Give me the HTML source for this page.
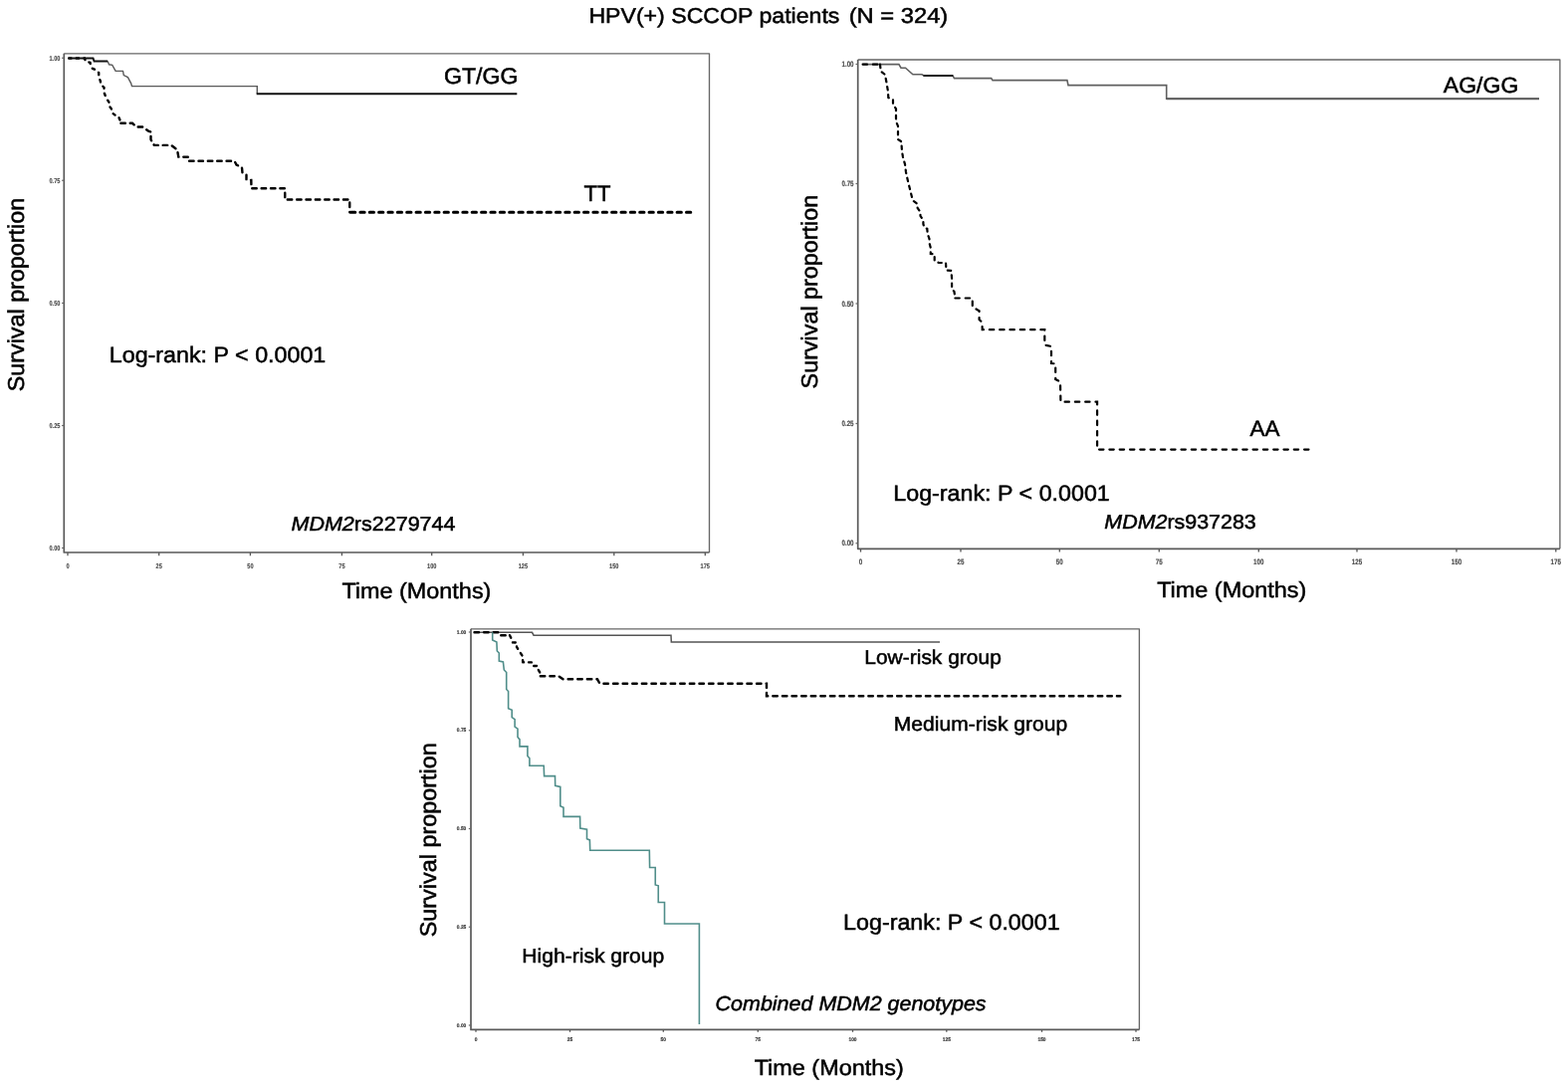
<!DOCTYPE html>
<html lang="en">
<head>
<meta charset="utf-8">
<title>HPV(+) SCCOP patients (N = 324)</title>
<style>
html,body{margin:0;padding:0;background:#fff;}
body{width:1575px;height:1092px;overflow:hidden;}
svg{display:block;font-family:"Liberation Sans", sans-serif;filter:blur(0.45px);text-rendering:geometricPrecision;}
.t{fill:#000;stroke:#000;stroke-width:0.5px;}
</style>
</head>
<body>
<svg width="1575" height="1092" viewBox="0 0 1575 1092">
<rect x="0" y="0" width="1575" height="1092" fill="#ffffff"/>
<text class="t" y="23" font-size="21.5"><tspan x="591.4" textLength="252" lengthAdjust="spacingAndGlyphs">HPV(+) SCCOP patients</tspan> <tspan x="852.7" textLength="99.6" lengthAdjust="spacingAndGlyphs">(N = 324)</tspan></text>
<path d="M64.3,53.8 H712.5 V555.0" fill="none" stroke="#666" stroke-width="1.35" stroke-linejoin="round"/>
<path d="M64.3,53.8 V555.0 H712.5" fill="none" stroke="#5a5a5a" stroke-width="1.7" stroke-linejoin="round"/>
<line x1="68" y1="555.0" x2="68" y2="558.3" stroke="#555" stroke-width="1.3"/>
<text transform="translate(68,571.2) scale(0.8,1)" font-size="7" font-weight="bold" text-anchor="middle" fill="#4a4a4a" stroke="#4a4a4a" stroke-width="0.15">0</text>
<line x1="159.7" y1="555.0" x2="159.7" y2="558.3" stroke="#555" stroke-width="1.3"/>
<text transform="translate(159.7,571.2) scale(0.8,1)" font-size="7" font-weight="bold" text-anchor="middle" fill="#4a4a4a" stroke="#4a4a4a" stroke-width="0.15">25</text>
<line x1="251.4" y1="555.0" x2="251.4" y2="558.3" stroke="#555" stroke-width="1.3"/>
<text transform="translate(251.4,571.2) scale(0.8,1)" font-size="7" font-weight="bold" text-anchor="middle" fill="#4a4a4a" stroke="#4a4a4a" stroke-width="0.15">50</text>
<line x1="343.4" y1="555.0" x2="343.4" y2="558.3" stroke="#555" stroke-width="1.3"/>
<text transform="translate(343.4,571.2) scale(0.8,1)" font-size="7" font-weight="bold" text-anchor="middle" fill="#4a4a4a" stroke="#4a4a4a" stroke-width="0.15">75</text>
<line x1="433.7" y1="555.0" x2="433.7" y2="558.3" stroke="#555" stroke-width="1.3"/>
<text transform="translate(433.7,571.2) scale(0.8,1)" font-size="7" font-weight="bold" text-anchor="middle" fill="#4a4a4a" stroke="#4a4a4a" stroke-width="0.15">100</text>
<line x1="525.4" y1="555.0" x2="525.4" y2="558.3" stroke="#555" stroke-width="1.3"/>
<text transform="translate(525.4,571.2) scale(0.8,1)" font-size="7" font-weight="bold" text-anchor="middle" fill="#4a4a4a" stroke="#4a4a4a" stroke-width="0.15">125</text>
<line x1="616.8" y1="555.0" x2="616.8" y2="558.3" stroke="#555" stroke-width="1.3"/>
<text transform="translate(616.8,571.2) scale(0.8,1)" font-size="7" font-weight="bold" text-anchor="middle" fill="#4a4a4a" stroke="#4a4a4a" stroke-width="0.15">150</text>
<line x1="708.3" y1="555.0" x2="708.3" y2="558.3" stroke="#555" stroke-width="1.3"/>
<text transform="translate(708.3,571.2) scale(0.8,1)" font-size="7" font-weight="bold" text-anchor="middle" fill="#4a4a4a" stroke="#4a4a4a" stroke-width="0.15">175</text>
<line x1="62.099999999999994" y1="58.25" x2="64.3" y2="58.25" stroke="#666" stroke-width="1.2"/>
<text transform="translate(60.4,60.75) scale(0.8,1)" font-size="7" font-weight="bold" text-anchor="end" fill="#4a4a4a" stroke="#4a4a4a" stroke-width="0.15">1.00</text>
<line x1="62.099999999999994" y1="181.25" x2="64.3" y2="181.25" stroke="#666" stroke-width="1.2"/>
<text transform="translate(60.4,183.75) scale(0.8,1)" font-size="7" font-weight="bold" text-anchor="end" fill="#4a4a4a" stroke="#4a4a4a" stroke-width="0.15">0.75</text>
<line x1="62.099999999999994" y1="304.5" x2="64.3" y2="304.5" stroke="#666" stroke-width="1.2"/>
<text transform="translate(60.4,307.0) scale(0.8,1)" font-size="7" font-weight="bold" text-anchor="end" fill="#4a4a4a" stroke="#4a4a4a" stroke-width="0.15">0.50</text>
<line x1="62.099999999999994" y1="427.5" x2="64.3" y2="427.5" stroke="#666" stroke-width="1.2"/>
<text transform="translate(60.4,430.0) scale(0.8,1)" font-size="7" font-weight="bold" text-anchor="end" fill="#4a4a4a" stroke="#4a4a4a" stroke-width="0.15">0.25</text>
<line x1="62.099999999999994" y1="550.5" x2="64.3" y2="550.5" stroke="#666" stroke-width="1.2"/>
<text transform="translate(60.4,553.0) scale(0.8,1)" font-size="7" font-weight="bold" text-anchor="end" fill="#4a4a4a" stroke="#4a4a4a" stroke-width="0.15">0.00</text>
<path d="M108.20,61.50 L109.50,64.80 L112.80,65.30 L116.10,71.40 L123.50,71.40 L124.30,75.60 L128.40,77.60 L131.70,83.80 L132.50,86.60 L258.30,86.60 L258.30,94.20" fill="none" stroke="#5a5a5a" stroke-width="1.4" stroke-linejoin="miter"/>
<path d="M257.70,94.20 L519.30,94.20" fill="none" stroke="#111" stroke-width="1.9" stroke-linejoin="miter"/>
<path d="M69.10,58.50 L85.00,58.50 L86.00,61.80 L90.50,62.80 L91.30,66.50 L93.00,69.00 L95.40,69.80 L99.20,73.10 L99.20,77.20 L100.80,81.30 L101.20,84.60 L104.50,87.90 L104.50,92.90 L105.80,96.20 L107.40,99.50 L109.50,102.80 L109.50,106.10 L111.90,109.40 L112.80,113.50 L116.10,116.00 L118.90,116.80 L120.60,120.90 L121.40,123.80" fill="none" stroke="#000" stroke-width="2.4" stroke-dasharray="2.4 5.2" stroke-linejoin="miter" stroke-linecap="round" stroke-linejoin="round"/>
<path d="M121.40,123.80 L133.00,123.80 L137.00,127.50 L143.00,127.50 L149.00,131.60 L151.50,132.40 L151.50,140.00 L153.00,143.50 L155.00,145.90 L172.00,145.90 L178.00,150.50 L179.30,157.60 L189.00,157.80 L189.50,161.80 L235.50,161.80 L237.50,165.50 L243.00,168.50 L243.50,173.50 L247.50,175.50 L247.50,180.50 L252.30,180.90 L252.50,189.20 L286.25,189.20 L286.25,200.50 L351.25,200.50 L351.25,213.20" fill="none" stroke="#000" stroke-width="2.4" stroke-dasharray="4.5 4.86" stroke-linejoin="miter" stroke-linecap="round" stroke-linejoin="round"/>
<path d="M352.50,213.30 L694.20,213.30" fill="none" stroke="#000" stroke-width="3.0" stroke-dasharray="4.3 5.06" stroke-linejoin="miter" stroke-linecap="round"/>
<path d="M69.10,58.60 L93.50,58.60 L94.60,61.50 L108.20,61.50" fill="none" stroke="#111" stroke-width="2.0" stroke-linejoin="miter"/>
<text class="t" x="446" y="84.2" font-size="22.6" textLength="74.5" lengthAdjust="spacingAndGlyphs">GT/GG</text>
<text class="t" x="586.5" y="202" font-size="22.4" textLength="27" lengthAdjust="spacingAndGlyphs">TT</text>
<text class="t" x="109.8" y="364.2" font-size="22.3" textLength="217.5" lengthAdjust="spacingAndGlyphs">Log-rank: P &lt; 0.0001</text>
<text x="292.5" y="533" font-size="20" textLength="165" lengthAdjust="spacingAndGlyphs" class="t"><tspan font-style="italic">MDM2</tspan>rs2279744</text>
<text class="t" x="343.4" y="600.5" font-size="22" textLength="150" lengthAdjust="spacingAndGlyphs">Time (Months)</text>
<text class="t" transform="translate(24.3,393.3) rotate(-90) scale(1.014,1)" font-size="23">Survival proportion</text>
<path d="M861.7,60 H1566.9 V551.3" fill="none" stroke="#666" stroke-width="1.35" stroke-linejoin="round"/>
<path d="M861.7,60 V551.3 H1566.9" fill="none" stroke="#5a5a5a" stroke-width="1.7" stroke-linejoin="round"/>
<line x1="864.5" y1="551.3" x2="864.5" y2="554.5999999999999" stroke="#555" stroke-width="1.3"/>
<text transform="translate(864.5,566.6) scale(0.8,1)" font-size="7.8" font-weight="bold" text-anchor="middle" fill="#4a4a4a" stroke="#4a4a4a" stroke-width="0.15">0</text>
<line x1="965" y1="551.3" x2="965" y2="554.5999999999999" stroke="#555" stroke-width="1.3"/>
<text transform="translate(965,566.6) scale(0.8,1)" font-size="7.8" font-weight="bold" text-anchor="middle" fill="#4a4a4a" stroke="#4a4a4a" stroke-width="0.15">25</text>
<line x1="1064.3" y1="551.3" x2="1064.3" y2="554.5999999999999" stroke="#555" stroke-width="1.3"/>
<text transform="translate(1064.3,566.6) scale(0.8,1)" font-size="7.8" font-weight="bold" text-anchor="middle" fill="#4a4a4a" stroke="#4a4a4a" stroke-width="0.15">50</text>
<line x1="1164.3" y1="551.3" x2="1164.3" y2="554.5999999999999" stroke="#555" stroke-width="1.3"/>
<text transform="translate(1164.3,566.6) scale(0.8,1)" font-size="7.8" font-weight="bold" text-anchor="middle" fill="#4a4a4a" stroke="#4a4a4a" stroke-width="0.15">75</text>
<line x1="1264.3" y1="551.3" x2="1264.3" y2="554.5999999999999" stroke="#555" stroke-width="1.3"/>
<text transform="translate(1264.3,566.6) scale(0.8,1)" font-size="7.8" font-weight="bold" text-anchor="middle" fill="#4a4a4a" stroke="#4a4a4a" stroke-width="0.15">100</text>
<line x1="1363" y1="551.3" x2="1363" y2="554.5999999999999" stroke="#555" stroke-width="1.3"/>
<text transform="translate(1363,566.6) scale(0.8,1)" font-size="7.8" font-weight="bold" text-anchor="middle" fill="#4a4a4a" stroke="#4a4a4a" stroke-width="0.15">125</text>
<line x1="1463" y1="551.3" x2="1463" y2="554.5999999999999" stroke="#555" stroke-width="1.3"/>
<text transform="translate(1463,566.6) scale(0.8,1)" font-size="7.8" font-weight="bold" text-anchor="middle" fill="#4a4a4a" stroke="#4a4a4a" stroke-width="0.15">150</text>
<line x1="1562.8" y1="551.3" x2="1562.8" y2="554.5999999999999" stroke="#555" stroke-width="1.3"/>
<text transform="translate(1562.8,566.6) scale(0.8,1)" font-size="7.8" font-weight="bold" text-anchor="middle" fill="#4a4a4a" stroke="#4a4a4a" stroke-width="0.15">175</text>
<line x1="859.5" y1="64.5" x2="861.7" y2="64.5" stroke="#666" stroke-width="1.2"/>
<text transform="translate(857.6,67.2) scale(0.8,1)" font-size="7.8" font-weight="bold" text-anchor="end" fill="#4a4a4a" stroke="#4a4a4a" stroke-width="0.15">1.00</text>
<line x1="859.5" y1="184.5" x2="861.7" y2="184.5" stroke="#666" stroke-width="1.2"/>
<text transform="translate(857.6,187.2) scale(0.8,1)" font-size="7.8" font-weight="bold" text-anchor="end" fill="#4a4a4a" stroke="#4a4a4a" stroke-width="0.15">0.75</text>
<line x1="859.5" y1="305" x2="861.7" y2="305" stroke="#666" stroke-width="1.2"/>
<text transform="translate(857.6,307.7) scale(0.8,1)" font-size="7.8" font-weight="bold" text-anchor="end" fill="#4a4a4a" stroke="#4a4a4a" stroke-width="0.15">0.50</text>
<line x1="859.5" y1="425.5" x2="861.7" y2="425.5" stroke="#666" stroke-width="1.2"/>
<text transform="translate(857.6,428.2) scale(0.8,1)" font-size="7.8" font-weight="bold" text-anchor="end" fill="#4a4a4a" stroke="#4a4a4a" stroke-width="0.15">0.25</text>
<line x1="859.5" y1="545.75" x2="861.7" y2="545.75" stroke="#666" stroke-width="1.2"/>
<text transform="translate(857.6,548.45) scale(0.8,1)" font-size="7.8" font-weight="bold" text-anchor="end" fill="#4a4a4a" stroke="#4a4a4a" stroke-width="0.15">0.00</text>
<path d="M866.60,64.60 L902.90,64.60 L905.00,68.20 L909.50,68.20 L916.90,74.80 L926.00,74.80 L928.00,76.00 L957.00,76.00 L958.50,78.60 L995.70,78.60 L997.00,80.60 L1071.90,80.60 L1073.00,85.60 L1171.70,85.60 L1171.70,99.30 L1546.00,99.30" fill="none" stroke="#606060" stroke-width="1.6" stroke-linejoin="miter"/>
<path d="M1171.70,99.30 L1546.00,99.30" fill="none" stroke="#5c5c5c" stroke-width="1.9" stroke-linejoin="miter"/>
<path d="M927.50,76.00 L957.30,76.00" fill="none" stroke="#111" stroke-width="1.9" stroke-linejoin="miter"/>
<path d="M866.60,64.70 L884.00,64.70" fill="none" stroke="#000" stroke-width="2.2" stroke-dasharray="4.4 5.9" stroke-linejoin="miter" stroke-linecap="round" stroke-linejoin="round"/>
<path d="M884.00,64.70 L884.70,71.50 L889.00,75.00 L890.50,83.00 L892.00,92.00 L892.30,98.00 L897.00,100.30 L897.00,104.50 L900.00,109.40 L900.00,119.00 L900.50,123.00 L902.00,126.70 L902.00,140.00 L905.60,142.40 L905.60,146.00 L906.00,152.00 L907.00,158.00 L909.00,165.00 L910.00,173.00 L912.00,182.00 L914.00,190.00 L916.00,198.00 L917.00,201.50 L921.60,205.00 L921.60,209.00 L924.50,213.00 L924.50,217.00 L927.40,221.00 L927.40,225.00 L928.40,228.60 L931.30,229.80 L931.70,235.00 L933.50,240.00 L933.50,244.00 L934.80,249.00 L934.80,255.00 L938.70,255.40 L938.70,262.00 L943.00,264.00 L950.00,264.00 L950.50,271.50 L955.50,271.90 L956.10,280.00 L956.10,290.00 L958.50,293.00 L959.40,299.50" fill="none" stroke="#000" stroke-width="2.2" stroke-dasharray="3.4 4.8" stroke-linejoin="miter" stroke-linecap="round" stroke-linejoin="round"/>
<path d="M959.40,299.50 L976.80,299.50 L976.80,309.00 L980.00,310.20 L983.60,312.30 L983.60,321.00 L986.50,323.80 L986.70,331.20 L1049.30,331.20 L1049.30,346.50 L1056.00,348.00 L1056.00,365.00 L1060.20,365.40 L1060.20,381.00 L1065.00,383.50 L1065.40,403.70 L1102.10,403.70 L1102.10,451.60 L1315.50,451.60" fill="none" stroke="#000" stroke-width="2.2" stroke-dasharray="4.4 5.9" stroke-linejoin="miter" stroke-linecap="round" stroke-linejoin="round"/>
<text class="t" x="1449.8" y="93.2" font-size="22" textLength="75.5" lengthAdjust="spacingAndGlyphs">AG/GG</text>
<text class="t" x="1255.5" y="437.5" font-size="22" textLength="30" lengthAdjust="spacingAndGlyphs">AA</text>
<text class="t" x="897.3" y="503.3" font-size="22.3" textLength="217.5" lengthAdjust="spacingAndGlyphs">Log-rank: P &lt; 0.0001</text>
<text x="1109.3" y="531" font-size="20" textLength="152.5" lengthAdjust="spacingAndGlyphs" class="t"><tspan font-style="italic">MDM2</tspan>rs937283</text>
<text class="t" x="1162.2" y="600" font-size="22" textLength="150" lengthAdjust="spacingAndGlyphs">Time (Months)</text>
<text class="t" transform="translate(821.4,390.4) rotate(-90) scale(1.015,1)" font-size="23">Survival proportion</text>
<path d="M473,631.8 H1144.4 V1034.4" fill="none" stroke="#666" stroke-width="1.35" stroke-linejoin="round"/>
<path d="M473,631.8 V1034.4 H1144.4" fill="none" stroke="#5a5a5a" stroke-width="1.7" stroke-linejoin="round"/>
<line x1="478" y1="1034.4" x2="478" y2="1036.8000000000002" stroke="#555" stroke-width="1.3"/>
<text transform="translate(478,1045.6) scale(0.92,1)" font-size="5.3" font-weight="bold" text-anchor="middle" fill="#333" stroke="#333" stroke-width="0.15">0</text>
<line x1="572.5" y1="1034.4" x2="572.5" y2="1036.8000000000002" stroke="#555" stroke-width="1.3"/>
<text transform="translate(572.5,1045.6) scale(0.92,1)" font-size="5.3" font-weight="bold" text-anchor="middle" fill="#333" stroke="#333" stroke-width="0.15">25</text>
<line x1="666.3" y1="1034.4" x2="666.3" y2="1036.8000000000002" stroke="#555" stroke-width="1.3"/>
<text transform="translate(666.3,1045.6) scale(0.92,1)" font-size="5.3" font-weight="bold" text-anchor="middle" fill="#333" stroke="#333" stroke-width="0.15">50</text>
<line x1="761.3" y1="1034.4" x2="761.3" y2="1036.8000000000002" stroke="#555" stroke-width="1.3"/>
<text transform="translate(761.3,1045.6) scale(0.92,1)" font-size="5.3" font-weight="bold" text-anchor="middle" fill="#333" stroke="#333" stroke-width="0.15">75</text>
<line x1="856.5" y1="1034.4" x2="856.5" y2="1036.8000000000002" stroke="#555" stroke-width="1.3"/>
<text transform="translate(856.5,1045.6) scale(0.92,1)" font-size="5.3" font-weight="bold" text-anchor="middle" fill="#333" stroke="#333" stroke-width="0.15">100</text>
<line x1="950.8" y1="1034.4" x2="950.8" y2="1036.8000000000002" stroke="#555" stroke-width="1.3"/>
<text transform="translate(950.8,1045.6) scale(0.92,1)" font-size="5.3" font-weight="bold" text-anchor="middle" fill="#333" stroke="#333" stroke-width="0.15">125</text>
<line x1="1046.5" y1="1034.4" x2="1046.5" y2="1036.8000000000002" stroke="#555" stroke-width="1.3"/>
<text transform="translate(1046.5,1045.6) scale(0.92,1)" font-size="5.3" font-weight="bold" text-anchor="middle" fill="#333" stroke="#333" stroke-width="0.15">150</text>
<line x1="1141" y1="1034.4" x2="1141" y2="1036.8000000000002" stroke="#555" stroke-width="1.3"/>
<text transform="translate(1141,1045.6) scale(0.92,1)" font-size="5.3" font-weight="bold" text-anchor="middle" fill="#333" stroke="#333" stroke-width="0.15">175</text>
<line x1="470.8" y1="635" x2="473" y2="635" stroke="#666" stroke-width="1.2"/>
<text transform="translate(468.3,636.5) scale(0.92,1)" font-size="5.3" font-weight="bold" text-anchor="end" fill="#333" stroke="#333" stroke-width="0.15">1.00</text>
<line x1="470.8" y1="733.75" x2="473" y2="733.75" stroke="#666" stroke-width="1.2"/>
<text transform="translate(468.3,735.25) scale(0.92,1)" font-size="5.3" font-weight="bold" text-anchor="end" fill="#333" stroke="#333" stroke-width="0.15">0.75</text>
<line x1="470.8" y1="832.5" x2="473" y2="832.5" stroke="#666" stroke-width="1.2"/>
<text transform="translate(468.3,834.0) scale(0.92,1)" font-size="5.3" font-weight="bold" text-anchor="end" fill="#333" stroke="#333" stroke-width="0.15">0.50</text>
<line x1="470.8" y1="931.25" x2="473" y2="931.25" stroke="#666" stroke-width="1.2"/>
<text transform="translate(468.3,932.75) scale(0.92,1)" font-size="5.3" font-weight="bold" text-anchor="end" fill="#333" stroke="#333" stroke-width="0.15">0.25</text>
<line x1="470.8" y1="1030" x2="473" y2="1030" stroke="#666" stroke-width="1.2"/>
<text transform="translate(468.3,1031.5) scale(0.92,1)" font-size="5.3" font-weight="bold" text-anchor="end" fill="#333" stroke="#333" stroke-width="0.15">0.00</text>
<path d="M476.50,635.30 L534.50,635.30 L536.00,638.20 L674.00,638.20 L674.30,645.00 L944.00,645.00" fill="none" stroke="#555" stroke-width="1.5" stroke-linejoin="miter"/>
<path d="M476.50,635.30 L502.00,635.30 L503.00,638.20 L512.00,638.20" fill="none" stroke="#000" stroke-width="2.4" stroke-dasharray="4.5 5.1" stroke-linejoin="miter" stroke-linecap="round" stroke-linejoin="round"/>
<path d="M512.00,638.20 L514.00,642.30 L515.00,645.40 L519.00,645.60 L519.00,650.00 L522.00,654.70 L524.80,659.00 L525.20,665.20 L534.00,665.40 L535.00,668.90 L540.00,669.10 L540.50,672.50 L542.50,676.00 L542.80,679.20" fill="none" stroke="#000" stroke-width="2.4" stroke-dasharray="2.8 5.0" stroke-linejoin="miter" stroke-linecap="round" stroke-linejoin="round"/>
<path d="M542.80,679.20 L561.00,679.20 L565.50,682.30 L600.00,682.30 L602.50,686.75 L770.00,686.75 L770.00,699.25 L1125.30,699.25" fill="none" stroke="#000" stroke-width="2.4" stroke-dasharray="4.5 5.1" stroke-linejoin="miter" stroke-linecap="round" stroke-linejoin="round"/>
<path d="M494.70,635.30 L494.70,643.00 L498.90,645.00 L499.30,654.00 L501.30,656.00 L501.30,664.00 L505.40,665.00 L506.30,673.00 L508.70,675.50 L508.70,692.50 L510.60,694.50 L510.60,711.80 L514.20,713.20 L514.20,720.60 L517.10,722.70 L517.10,730.10 L520.00,732.20 L520.00,740.40 L522.00,742.90 L522.00,749.90 L529.90,749.90 L529.90,759.40 L531.90,761.80 L531.90,769.20 L546.20,769.20 L546.60,779.60 L557.50,779.60 L557.70,789.30 L562.80,790.50 L562.80,809.70 L566.00,811.30 L566.00,820.40 L582.60,820.40 L582.80,832.00 L589.50,833.20 L589.50,842.70 L592.40,843.90 L592.70,854.30 L652.30,854.30 L652.60,871.50 L658.25,871.50 L658.25,889.00 L661.25,889.75 L661.25,906.50 L667.50,906.50 L667.50,928.00 L702.40,928.00 L702.40,1029.00" fill="none" stroke="#508e8a" stroke-width="1.6" stroke-linejoin="miter"/>
<text class="t" x="868.3" y="666.8" font-size="20" textLength="137.5" lengthAdjust="spacingAndGlyphs">Low-risk group</text>
<text class="t" x="897.8" y="734.3" font-size="20" textLength="174.3" lengthAdjust="spacingAndGlyphs">Medium-risk group</text>
<text class="t" x="524.3" y="967.2" font-size="20" textLength="143" lengthAdjust="spacingAndGlyphs">High-risk group</text>
<text class="t" x="847.1" y="933.5" font-size="22.3" textLength="217.5" lengthAdjust="spacingAndGlyphs">Log-rank: P &lt; 0.0001</text>
<text class="t" x="718.6" y="1014.8" font-size="20.3" font-style="italic" textLength="272" lengthAdjust="spacingAndGlyphs">Combined MDM2 genotypes</text>
<text class="t" x="757.7" y="1079.6" font-size="22" textLength="150" lengthAdjust="spacingAndGlyphs">Time (Months)</text>
<text class="t" transform="translate(437.5,941.3) rotate(-90) scale(1.017,1)" font-size="23">Survival proportion</text>
</svg>
</body>
</html>
